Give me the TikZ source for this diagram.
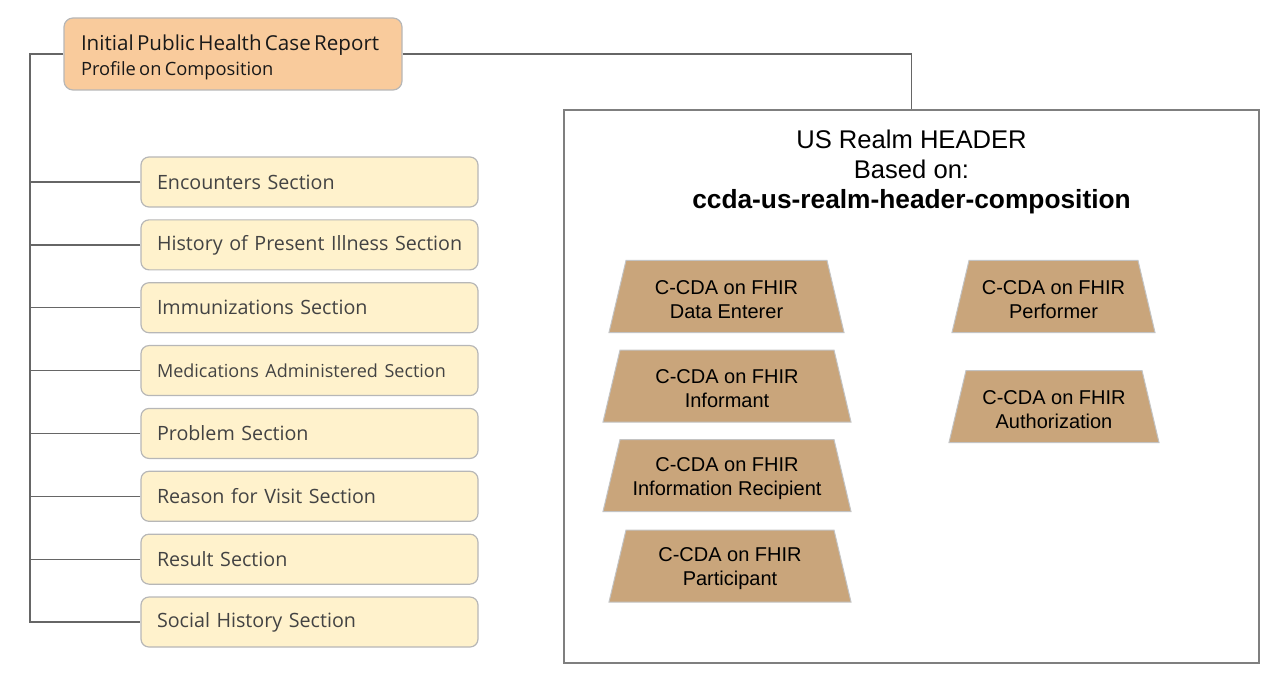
\documentclass[tikz,border=0pt]{standalone}
\usepackage{fontspec}
\setmainfont{Open Sans}
\newfontfamily\arialfont{Liberation Sans}
\definecolor{casefill}{HTML}{F9CB9C}
\definecolor{secfill}{HTML}{FFF2CC}
\definecolor{boxline}{HTML}{B7B7B7}
\definecolor{linkline}{HTML}{666666}
\definecolor{hdrline}{HTML}{7F7F7F}
\definecolor{proffill}{HTML}{C9A57B}
\definecolor{profline}{HTML}{C3C3C3}
\definecolor{sectext}{HTML}{434343}
\tikzset{
  casebox/.style={draw=boxline, line width=1.2pt, fill=casefill, rounded corners=9pt,
    minimum width=338, minimum height=72, text width=304, align=left, inner sep=0pt,
    text=black!90},
  secbox/.style={draw=boxline, line width=1.2pt, fill=secfill, rounded corners=8pt,
    minimum width=337, minimum height=50, text width=305, align=left, inner sep=0pt,
    text=sectext, font=\fontsize{19.7}{24}\selectfont},
  % trapezoid drawn inside a slightly larger box, text sits a bit low
  profile/.style={minimum width=#1+2, minimum height=80, inner sep=0pt, align=center,
    font=\arialfont\fontsize{20}{24}\selectfont,
    path picture={\draw[draw=profline, line width=1pt, fill=proffill]
      ([shift={(18,1)}]path picture bounding box.north west) --
      ([shift={(-18,1)}]path picture bounding box.north east) --
      ([shift={(-1,-7)}]path picture bounding box.south east) --
      ([shift={(1,-7)}]path picture bounding box.south west) -- cycle;}},
  link/.style={draw=linkline, line width=1.3pt}
}

\begin{document}
\begin{tikzpicture}[x=1pt,y=-1pt]
  \useasboundingbox (0,0) rectangle (1280,687);

  % Composition profile at the top left
  \node[casebox] (case) at (233,54)
    {\mbox{\rule{0pt}{22pt}\fontsize{20.6}{24}\selectfont Initial Public Health Case Report}\\[4.5pt]
     \mbox{\fontsize{18.3}{24}\selectfont Profile on Composition}};

  % The sections, one under the other
  \foreach \name [count=\i] in {Encounters Section, History of Present Illness Section,
      Immunizations Section, {\fontsize{18}{24}\selectfont Medications Administered Section},
      Problem Section, Reason for Visit Section, Result Section, Social History Section}
    \node[secbox] (sec\i) at (309.5,{182+(\i-1)*62.86}) {\mbox{\name}};

  % The header frame with its title
  \node[draw=hdrline, line width=1.2pt, minimum width=695, minimum height=553] (header) at (911.5,386.5) {};
  \node[font=\arialfont\fontsize{25.6}{30}\selectfont, align=center, inner sep=0pt] (title) at (911.5,172)
    {US Realm HEADER\\Based on:\\{\fontsize{26.3}{30}\selectfont\bfseries ccda-us-realm-header-composition}};

  % Participant profiles of the header
  \node[profile=235] (enterer) at (726.5,299.5) {C-CDA on FHIR\\Data Enterer};
  \node[profile=248] (informant) at (727,389) {C-CDA on FHIR\\Informant};
  \node[profile=248] (recipient) at (727,478.5) {C-CDA on FHIR\\Information Recipient};
  \node[profile=242] (participant) at (730,569) {C-CDA on FHIR\\Participant};
  \node[profile=203] (performer) at (1053.5,299.5) {C-CDA on FHIR\\Performer};
  \node[profile=210] (authorization) at (1054,409.5) {C-CDA on FHIR\\Authorization};

  % Connectors from the composition
  \coordinate (trunk) at (30,54);
  \draw[link] (case.west) -- (trunk) |- (sec8.west);
  \foreach \i in {1,...,7}
    \draw[link] (sec\i.west) -- (trunk |- sec\i.west);
  \draw[link] (case.east) -| (header.north);
\end{tikzpicture}
\end{document}
